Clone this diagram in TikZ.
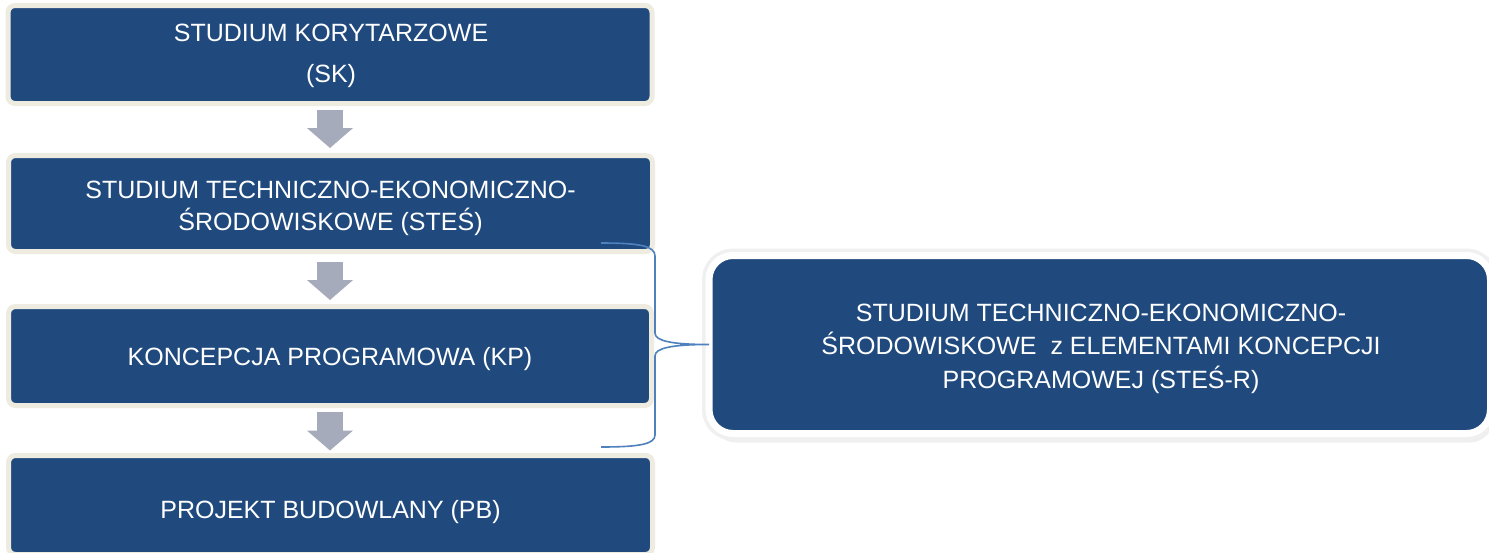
\documentclass[tikz,border=0pt]{standalone}
\usepackage{fontspec}
\setmainfont{Liberation Sans}
\usetikzlibrary{arrows.meta,shadows}
\definecolor{boxblue}{RGB}{32,74,125}
\definecolor{boxbeige}{RGB}{238,236,225}
\definecolor{arrowgray}{RGB}{166,171,187}
\definecolor{bracecol}{RGB}{79,129,189}
\begin{document}
\begin{tikzpicture}[x=0.5pt,y=-0.5pt,
  stagebox/.style={draw=boxbeige, fill=boxblue, line width=2.5pt, rounded corners=3.5pt,
    inner sep=0pt, outer sep=0pt},
  bigbox/.style={draw=white, fill=boxblue, line width=3.5pt, rounded corners=12pt,
    inner sep=0pt, outer sep=0pt,
    drop shadow={shadow xshift=1.5pt, shadow yshift=-4.5pt, opacity=0.12},
    drop shadow={shadow xshift=1pt, shadow yshift=-3pt, opacity=0.22},
    preaction={draw=black!10, line width=5.5pt},
    preaction={draw=black!6, line width=7pt}},
  lbl/.style={text=white, align=center, inner sep=0pt, outer sep=0pt},
  flowarrow/.style={draw=arrowgray, line width=13pt, -{Triangle[width=22.5pt,length=10pt]}},
  bracket/.style={draw=bracecol, line width=0.8pt}
]
\useasboundingbox (0,0) rectangle (1489,552);
\fill[white] (0,0) rectangle (1489,552);

% stage boxes
\node[stagebox, minimum width=322pt, minimum height=49pt] (sk) at (330,54.5) {};
\node[stagebox, minimum width=322pt, minimum height=48pt] (stes) at (330.5,203.5) {};
\node[stagebox, minimum width=321.5pt, minimum height=49.5pt] (kp) at (330,356) {};
\node[stagebox, minimum width=322pt, minimum height=49.5pt] (pb) at (330.5,505) {};

% right box
\node[bigbox, minimum width=390.75pt, minimum height=89pt] (rbox) at (1099.75,344.5) {};

% labels
\node[lbl, font=\fontsize{12.5}{20.75}\selectfont] (skt) at (331,56) {STUDIUM KORYTARZOWE\\(SK)};
\node[lbl, font=\fontsize{12.5}{16}\selectfont] (stest) at (330.5,208.6) {STUDIUM TECHNICZNO-EKONOMICZNO-\\ŚRODOWISKOWE (STEŚ)};
\node[lbl, font=\fontsize{12.5}{16}\selectfont] (kpt) at (330,359.5) {KONCEPCJA PROGRAMOWA (KP)};
\node[lbl, font=\fontsize{12.5}{16}\selectfont] (pbt) at (330.5,512.5) {PROJEKT BUDOWLANY (PB)};
\node[lbl, font=\fontsize{12.5}{16.7}\selectfont] (rboxt) at (1101,348.7) {STUDIUM TECHNICZNO-EKONOMICZNO-\\ŚRODOWISKOWE\ \ z ELEMENTAMI KONCEPCJI\\PROGRAMOWEJ (STEŚ-R)};

% flow arrows
\draw[flowarrow, shorten <=3.25pt, shorten >=3.75pt] (sk.south) -- (sk.south |- stes.north);
\draw[flowarrow, shorten <=5.25pt, shorten >=3.25pt] (stes.south -| sk.south) -- (sk.south |- kp.north);
\draw[flowarrow, shorten <=3pt, shorten >=2.5pt] (kp.south) -- (kp.south |- pb.north);

% bracket
\coordinate (bt) at (601,243);
\coordinate (bb) at (601,447);
\draw[bracket] (bt) .. controls (640,243) and (655,246) .. (655,256) -- (655,333)
  .. controls (655,341) and (672,344.5) .. (rbox.west)
  .. controls (672,344.5) and (655,348) .. (655,356) -- (655,435)
  .. controls (655,444) and (640,447) .. (bb);
\end{tikzpicture}
\end{document}
